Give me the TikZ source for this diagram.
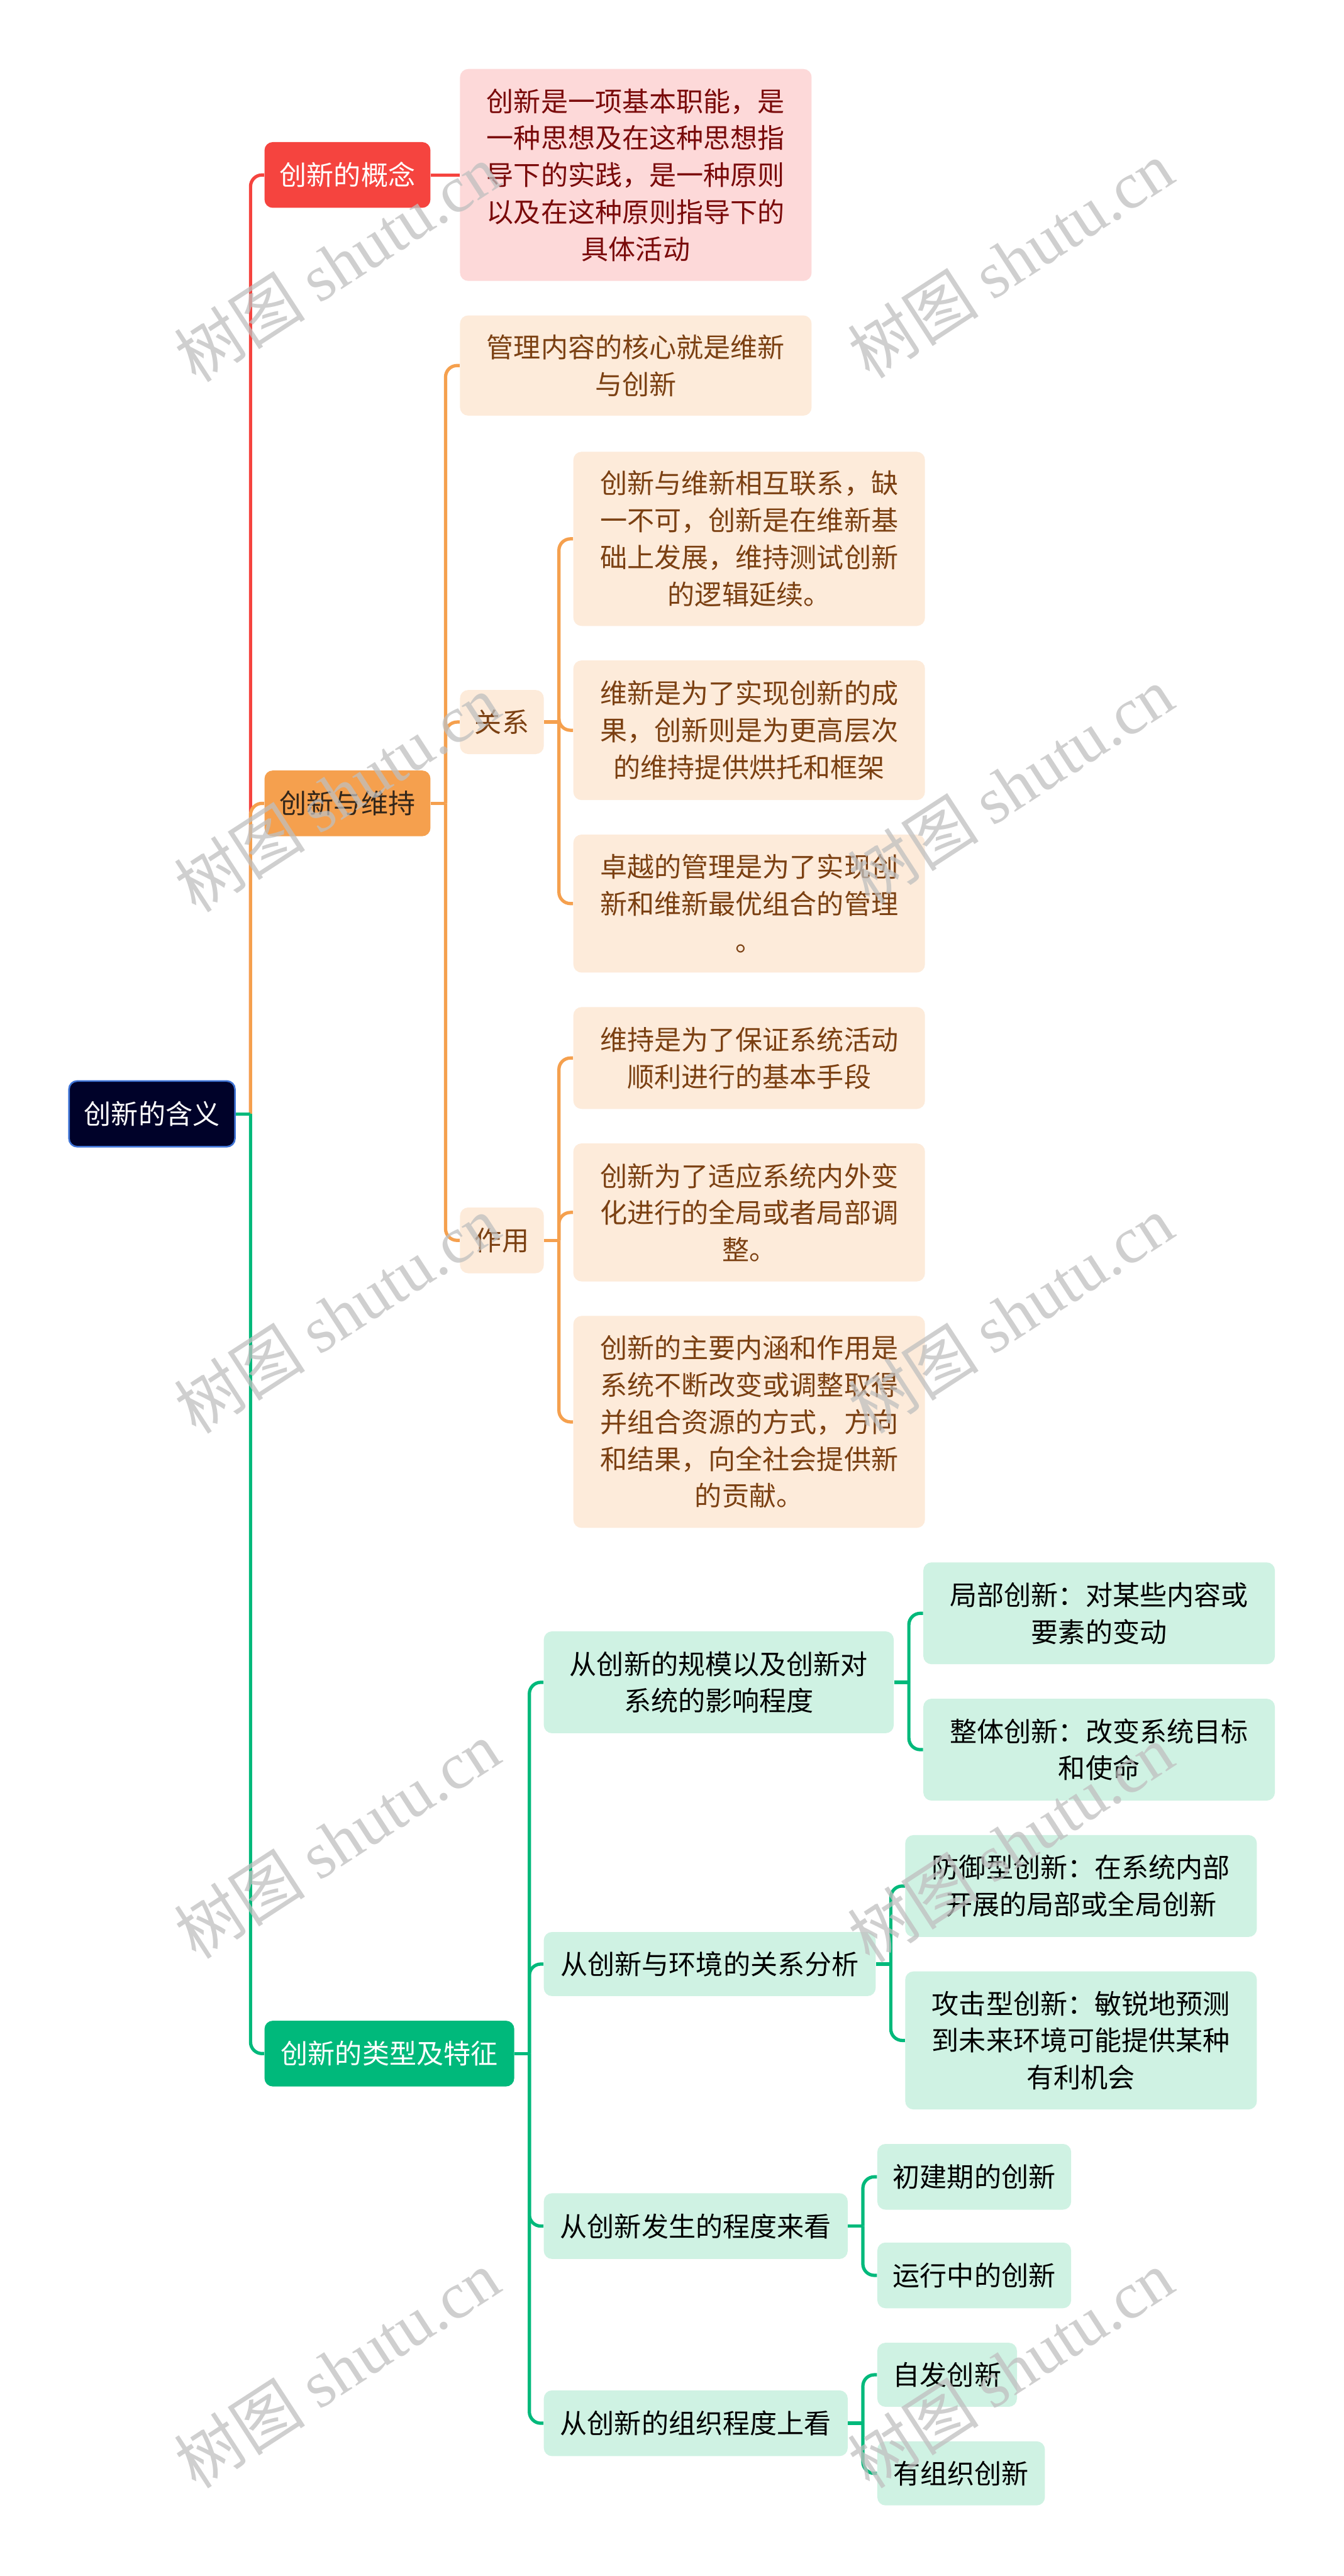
\documentclass[tikz,border=0pt]{standalone}
\usepackage{fontspec}
\setmainfont{Noto Sans CJK SC}
\newfontfamily\wmlatin{Liberation Serif}
\definecolor{cRed}{HTML}{F5443F}
\definecolor{cOrange}{HTML}{F5A04E}
\definecolor{cGreen}{HTML}{00B97B}
\definecolor{cRoot}{HTML}{000229}
\definecolor{cRootB}{HTML}{3F74D6}
\definecolor{lRed}{HTML}{FDD9D9}
\definecolor{tRed}{HTML}{7A0A0A}
\definecolor{lOrange}{HTML}{FDEBDA}
\definecolor{tOrange}{HTML}{7B4012}
\definecolor{lGreen}{HTML}{CFF2E3}
\definecolor{tMaint}{HTML}{33261A}
\begin{document}
\begin{tikzpicture}[x=1pt,y=-1pt,
  base/.style={font=\fontsize{16.5}{22.5}\selectfont, align=center, inner sep=0pt, rounded corners=5pt},
  rootbox/.style={base, fill=cRoot, draw=cRootB, line width=1pt, text=white},
  redbox/.style={base, fill=cRed, text=white},
  orangebox/.style={base, fill=cOrange, text=tMaint},
  greenbox/.style={base, fill=cGreen, text=white},
  redleaf/.style={base, fill=lRed, text=tRed},
  orangeleaf/.style={base, fill=lOrange, text=tOrange},
  greenleaf/.style={base, fill=lGreen, text=black},
  lineR/.style={draw=cRed, line width=2pt},
  lineO/.style={draw=cOrange, line width=2pt},
  lineG/.style={draw=cGreen, line width=2pt},
  elbow/.style={rounded corners=7pt},
  wm/.style={rotate=33, text=black!25, opacity=0.75, font=\fontsize{40}{40}\selectfont, inner sep=0pt}
]
\useasboundingbox (0,0) rectangle (818,1568);
\fill[white] (0,0) rectangle (818,1568);

% ---------- nodes ----------
\node[rootbox, minimum width=101pt, minimum height=40pt] (root) at (92.5,678) {创新的含义};

\node[redbox, minimum width=101pt, minimum height=40pt] (concept) at (211.5,106.5) {创新的概念};
\node[orangebox, minimum width=101pt, minimum height=40pt] (maint) at (211.5,489) {创新与维持};
\node[greenbox, minimum width=152pt, minimum height=40pt] (types) at (237,1250) {创新的类型及特征};

\node[redleaf, minimum width=214pt, minimum height=129pt] (def) at (387,106.5)
  {创新是一项基本职能，是\\一种思想及在这种思想指\\导下的实践，是一种原则\\以及在这种原则指导下的\\具体活动};

\node[orangeleaf, minimum width=214pt, minimum height=61pt] (core) at (387,222.5)
  {管理内容的核心就是维新\\与创新};
\node[orangeleaf, minimum width=51pt, minimum height=39pt] (rel) at (305.5,439.5) {关系};
\node[orangeleaf, minimum width=51pt, minimum height=40pt] (role) at (305.5,755) {作用};

\node[orangeleaf, minimum width=214pt, minimum height=106pt] (r1) at (456,328)
  {创新与维新相互联系，缺\\一不可，创新是在维新基\\础上发展，维持测试创新\\的逻辑延续。};
\node[orangeleaf, minimum width=214pt, minimum height=85pt] (r2) at (456,444.5)
  {维新是为了实现创新的成\\果，创新则是为更高层次\\的维持提供烘托和框架};
\node[orangeleaf, minimum width=214pt, minimum height=84pt] (r3) at (456,550)
  {卓越的管理是为了实现创\\新和维新最优组合的管理\\。};

\node[orangeleaf, minimum width=214pt, minimum height=62pt] (z1) at (456,644)
  {维持是为了保证系统活动\\顺利进行的基本手段};
\node[orangeleaf, minimum width=214pt, minimum height=84pt] (z2) at (456,738)
  {创新为了适应系统内外变\\化进行的全局或者局部调\\整。};
\node[orangeleaf, minimum width=214pt, minimum height=129pt] (z3) at (456,865.5)
  {创新的主要内涵和作用是\\系统不断改变或调整取得\\并组合资源的方式，方向\\和结果，向全社会提供新\\的贡献。};

\node[greenleaf, minimum width=213pt, minimum height=62pt] (ga) at (437.5,1024)
  {从创新的规模以及创新对\\系统的影响程度};
\node[greenleaf, minimum width=202pt, minimum height=39pt] (gb) at (432,1195.5)
  {从创新与环境的关系分析};
\node[greenleaf, minimum width=185pt, minimum height=40pt] (gc) at (423.5,1355)
  {从创新发生的程度来看};
\node[greenleaf, minimum width=185pt, minimum height=40pt] (gd) at (423.5,1475)
  {从创新的组织程度上看};

\node[greenleaf, minimum width=214pt, minimum height=62pt] (ga1) at (669,982)
  {局部创新：对某些内容或\\要素的变动};
\node[greenleaf, minimum width=214pt, minimum height=62pt] (ga2) at (669,1065)
  {整体创新：改变系统目标\\和使命};
\node[greenleaf, minimum width=214pt, minimum height=62pt] (gb1) at (658,1148)
  {防御型创新：在系统内部\\开展的局部或全局创新};
\node[greenleaf, minimum width=214pt, minimum height=84pt] (gb2) at (658,1242)
  {攻击型创新：敏锐地预测\\到未来环境可能提供某种\\有利机会};
\node[greenleaf, minimum width=118pt, minimum height=40pt] (gc1) at (593,1325) {初建期的创新};
\node[greenleaf, minimum width=118pt, minimum height=40pt] (gc2) at (593,1385) {运行中的创新};
\node[greenleaf, minimum width=85pt, minimum height=39pt] (gd1) at (576.5,1445.5) {自发创新};
\node[greenleaf, minimum width=102pt, minimum height=39pt] (gd2) at (585,1505.5) {有组织创新};

% ---------- junction points ----------
\coordinate (jroot) at ([xshift=9pt]root.east);
\coordinate (jmaint) at ([xshift=9pt]maint.east);
\coordinate (jtypes) at ([xshift=9pt]types.east);
\coordinate (jrel) at ([xshift=9pt]rel.east);
\coordinate (jrole) at ([xshift=9pt]role.east);
\coordinate (jga) at ([xshift=9pt]ga.east);
\coordinate (jgb) at ([xshift=9pt]gb.east);
\coordinate (jgc) at ([xshift=9pt]gc.east);
\coordinate (jgd) at ([xshift=9pt]gd.east);

% ---------- connectors ----------
\draw[lineR, elbow] (jroot) |- (concept.west);
\draw[lineR] (concept.east) -- (def.west);

\draw[lineO, elbow] (jroot) |- (maint.west);
\draw[lineO] (maint.east) -- (jmaint);
\draw[lineO, elbow] (jmaint) |- (core.west);
\draw[lineO, elbow] (jmaint) |- (rel.west);
\draw[lineO, elbow] (jmaint) |- (role.west);
\draw[lineO] (rel.east) -- (jrel);
\draw[lineO, elbow] (jrel) |- (r1.west);
\draw[lineO, elbow] (jrel) |- (r2.west);
\draw[lineO, elbow] (jrel) |- (r3.west);
\draw[lineO] (role.east) -- (jrole);
\draw[lineO, elbow] (jrole) |- (z1.west);
\draw[lineO, elbow] (jrole) |- (z2.west);
\draw[lineO, elbow] (jrole) |- (z3.west);

\draw[lineG] (root.east) -- (jroot);
\draw[lineG, elbow] (jroot) |- (types.west);
\draw[lineG] (types.east) -- (jtypes);
\draw[lineG, elbow] (jtypes) |- (ga.west);
\draw[lineG, elbow] (jtypes) |- (gb.west);
\draw[lineG, elbow] (jtypes) |- (gc.west);
\draw[lineG, elbow] (jtypes) |- (gd.west);
\draw[lineG] (ga.east) -- (jga);
\draw[lineG, elbow] (jga) |- (ga1.west);
\draw[lineG, elbow] (jga) |- (ga2.west);
\draw[lineG] (gb.east) -- (jgb);
\draw[lineG, elbow] (jgb) |- (gb1.west);
\draw[lineG, elbow] (jgb) |- (gb2.west);
\draw[lineG] (gc.east) -- (jgc);
\draw[lineG, elbow] (jgc) |- (gc1.west);
\draw[lineG, elbow] (jgc) |- (gc2.west);
\draw[lineG] (gd.east) -- (jgd);
\draw[lineG, elbow] (jgd) |- (gd1.west);
\draw[lineG, elbow] (jgd) |- (gd2.west);

% ---------- watermarks ----------
\node[wm] (w1) at (205,160) {树图 {\wmlatin shutu.cn}};
\node[wm] (w2) at (615,158) {树图 {\wmlatin shutu.cn}};
\node[wm] (w3) at (205,483) {树图 {\wmlatin shutu.cn}};
\node[wm] (w4) at (615,478) {树图 {\wmlatin shutu.cn}};
\node[wm] (w5) at (205,800) {树图 {\wmlatin shutu.cn}};
\node[wm] (w6) at (615,800) {树图 {\wmlatin shutu.cn}};
\node[wm] (w7) at (205,1120) {树图 {\wmlatin shutu.cn}};
\node[wm] (w8) at (615,1122) {树图 {\wmlatin shutu.cn}};
\node[wm] (w9) at (205,1442) {树图 {\wmlatin shutu.cn}};
\node[wm] (w10) at (615,1442) {树图 {\wmlatin shutu.cn}};
\end{tikzpicture}
\end{document}
